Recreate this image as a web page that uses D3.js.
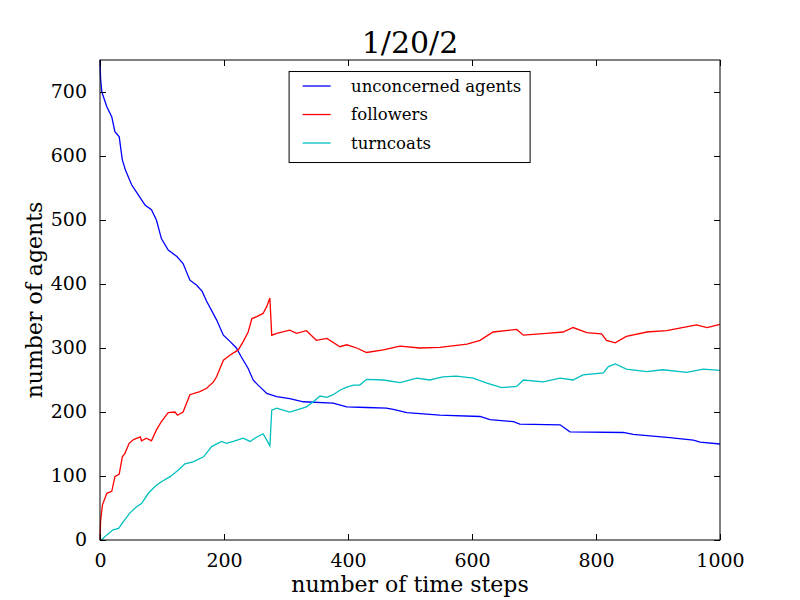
<!DOCTYPE html>
<html>
<head>
<meta charset="utf-8">
<script src="https://cdn.jsdelivr.net/npm/d3@7"></script>
<style>
  body { margin: 0; background: #fff; }
  text { font-family: "DejaVu Serif", serif; fill: #000; }
  .line { fill: none; stroke-width: 1.3; }
</style>
</head>
<body>
<div id="chart"></div>
<script>
const chartTitle = "1/20/2";
const xTicks = [0, 200, 400, 600, 800, 1000];
const yTicks = [0, 100, 200, 300, 400, 500, 600, 700];

// [time step, number of agents]
const unconcerned = [[0,750],[1,720],[3,700],[11,677],[19,661],[24,638],[31,630],[36,594],[41,578],[51,555],[62,539],[73,523],[83,516],[91,500],[99,471],[110,453],[124,443],[134,432],[145,406],[156,398],[165,388],[172,373],[188,344],[199,320],[210,310],[220,300],[228,286],[239,268],[247,250],[255,242],[269,229],[285,224],[306,221],[328,216],[376,214],[398,208],[430,207],[462,206],[473,204],[495,199],[548,195],[613,193],[629,188],[667,185],[677,181],[742,180],[758,169],[844,168],[860,165],[919,160],[957,156],[968,153],[1000,150]];

const followers = [[0,0],[1,30],[4,55],[11,73],[19,76],[24,99],[31,103],[36,130],[40,135],[47,151],[54,157],[65,161],[67,155],[75,159],[83,155],[91,172],[99,185],[110,199],[121,200],[125,195],[134,200],[145,227],[161,232],[172,237],[183,247],[188,255],[199,281],[210,289],[223,297],[231,310],[239,325],[245,346],[253,349],[263,354],[269,365],[274,378],[277,320],[285,323],[306,328],[317,323],[333,327],[349,312],[366,315],[387,302],[398,305],[414,300],[430,293],[457,297],[484,303],[516,300],[548,301],[592,306],[613,312],[634,325],[672,329],[683,320],[720,323],[747,325],[763,332],[785,324],[809,322],[817,312],[831,308],[849,318],[882,325],[914,327],[935,331],[962,336],[979,332],[1000,337]];

const turncoats = [[0,0],[3,1],[11,8],[21,16],[30,18],[38,29],[48,42],[59,52],[67,57],[78,73],[89,84],[99,91],[113,99],[126,109],[137,119],[150,122],[167,130],[180,146],[196,154],[204,151],[215,154],[231,159],[242,154],[253,161],[263,166],[269,156],[274,147],[277,203],[285,206],[306,200],[323,205],[333,208],[344,216],[355,225],[366,223],[376,227],[387,234],[398,239],[409,242],[419,242],[430,251],[457,250],[484,246],[511,253],[532,250],[553,255],[575,256],[602,253],[624,245],[648,238],[672,240],[683,250],[715,247],[742,253],[763,250],[779,258],[812,261],[820,271],[831,275],[849,267],[882,263],[908,266],[946,262],[973,267],[1000,265]];

const seriesNames = ["unconcerned agents", "followers", "turncoats"];
const seriesColors = ["#0000ff", "#ff0000", "#00bfbf"];
const seriesData = [unconcerned, followers, turncoats];

const margin = { top: 60, right: 80, bottom: 60, left: 100 },
      width = 800 - margin.left - margin.right,
      height = 600 - margin.top - margin.bottom;

const svg = d3.select("#chart")
              .append("svg")
              .attr("width", 800)
              .attr("height", 600)
              .append("g")
              .attr("transform", `translate(${margin.left},${margin.top})`);

const xScale = d3.scaleLinear().domain([0, 1000]).range([0, width]);
const yScale = d3.scaleLinear().domain([0, 750]).range([height, 0]);

const line = d3.line()
               .x(d => xScale(d[0]))
               .y(d => yScale(d[1]));

svg.append("g")
   .selectAll("path")
   .data(seriesData)
   .enter()
   .append("path")
   .attr("class", "line")
   .attr("stroke", (d, i) => seriesColors[i])
   .attr("d", line);

// ticks pointing inward on all four sides
const tickLen = 6;
const axisBottom = svg.append("g")
                      .attr("transform", `translate(0,${height})`)
                      .call(d3.axisBottom(xScale).tickValues(xTicks).tickFormat(d3.format("d")).tickSizeInner(-tickLen).tickSizeOuter(0).tickPadding(tickLen + 8));
const axisTop = svg.append("g")
                   .call(d3.axisTop(xScale).tickValues(xTicks).tickSizeInner(-tickLen).tickSizeOuter(0).tickFormat(""));
const axisLeft = svg.append("g")
                    .call(d3.axisLeft(yScale).tickValues(yTicks).tickFormat(d3.format("d")).tickSizeInner(-tickLen).tickSizeOuter(0).tickPadding(tickLen + 7));
const axisRight = svg.append("g")
                     .attr("transform", `translate(${width},0)`)
                     .call(d3.axisRight(yScale).tickValues(yTicks).tickSizeInner(-tickLen).tickSizeOuter(0).tickFormat(""));

[axisBottom, axisTop, axisLeft, axisRight].forEach(a => {
    a.select(".domain").remove();
    a.selectAll("line").attr("stroke", "#000");
    a.selectAll("text").attr("font-size", 19);
});
axisLeft.selectAll("text").attr("dy", "0.3em");

svg.append("rect")
   .attr("width", width)
   .attr("height", height)
   .attr("fill", "none")
   .attr("stroke", "#000")
   .attr("stroke-width", 1);

svg.append("text")
   .attr("x", width / 2)
   .attr("y", -7)
   .attr("text-anchor", "middle")
   .attr("font-size", 30)
   .text(chartTitle);

svg.append("text")
   .attr("x", width / 2)
   .attr("y", height + 52)
   .attr("text-anchor", "middle")
   .attr("font-size", 22)
   .text("number of time steps");

svg.append("text")
   .attr("transform", "rotate(-90)")
   .attr("x", -height / 2)
   .attr("y", -58)
   .attr("text-anchor", "middle")
   .attr("font-size", 22)
   .text("number of agents");

// legend
const legend = svg.append("g")
                  .attr("transform", `translate(${xScale(305)},${yScale(732)})`);

legend.append("rect")
      .attr("width", 241)
      .attr("height", 91)
      .attr("fill", "#fff")
      .attr("stroke", "#000")
      .attr("stroke-width", 1);

seriesNames.forEach((name, i) => {
    const y = 14.5 + i * 28.5;
    legend.append("line")
          .attr("x1", 13.5).attr("x2", 41.5)
          .attr("y1", y).attr("y2", y)
          .attr("stroke", seriesColors[i])
          .attr("stroke-width", 1.3);
    legend.append("text")
          .attr("x", 62)
          .attr("y", y)
          .attr("dy", "0.35em")
          .attr("font-size", 16.5)
          .text(name);
});
</script>
</body>
</html>
